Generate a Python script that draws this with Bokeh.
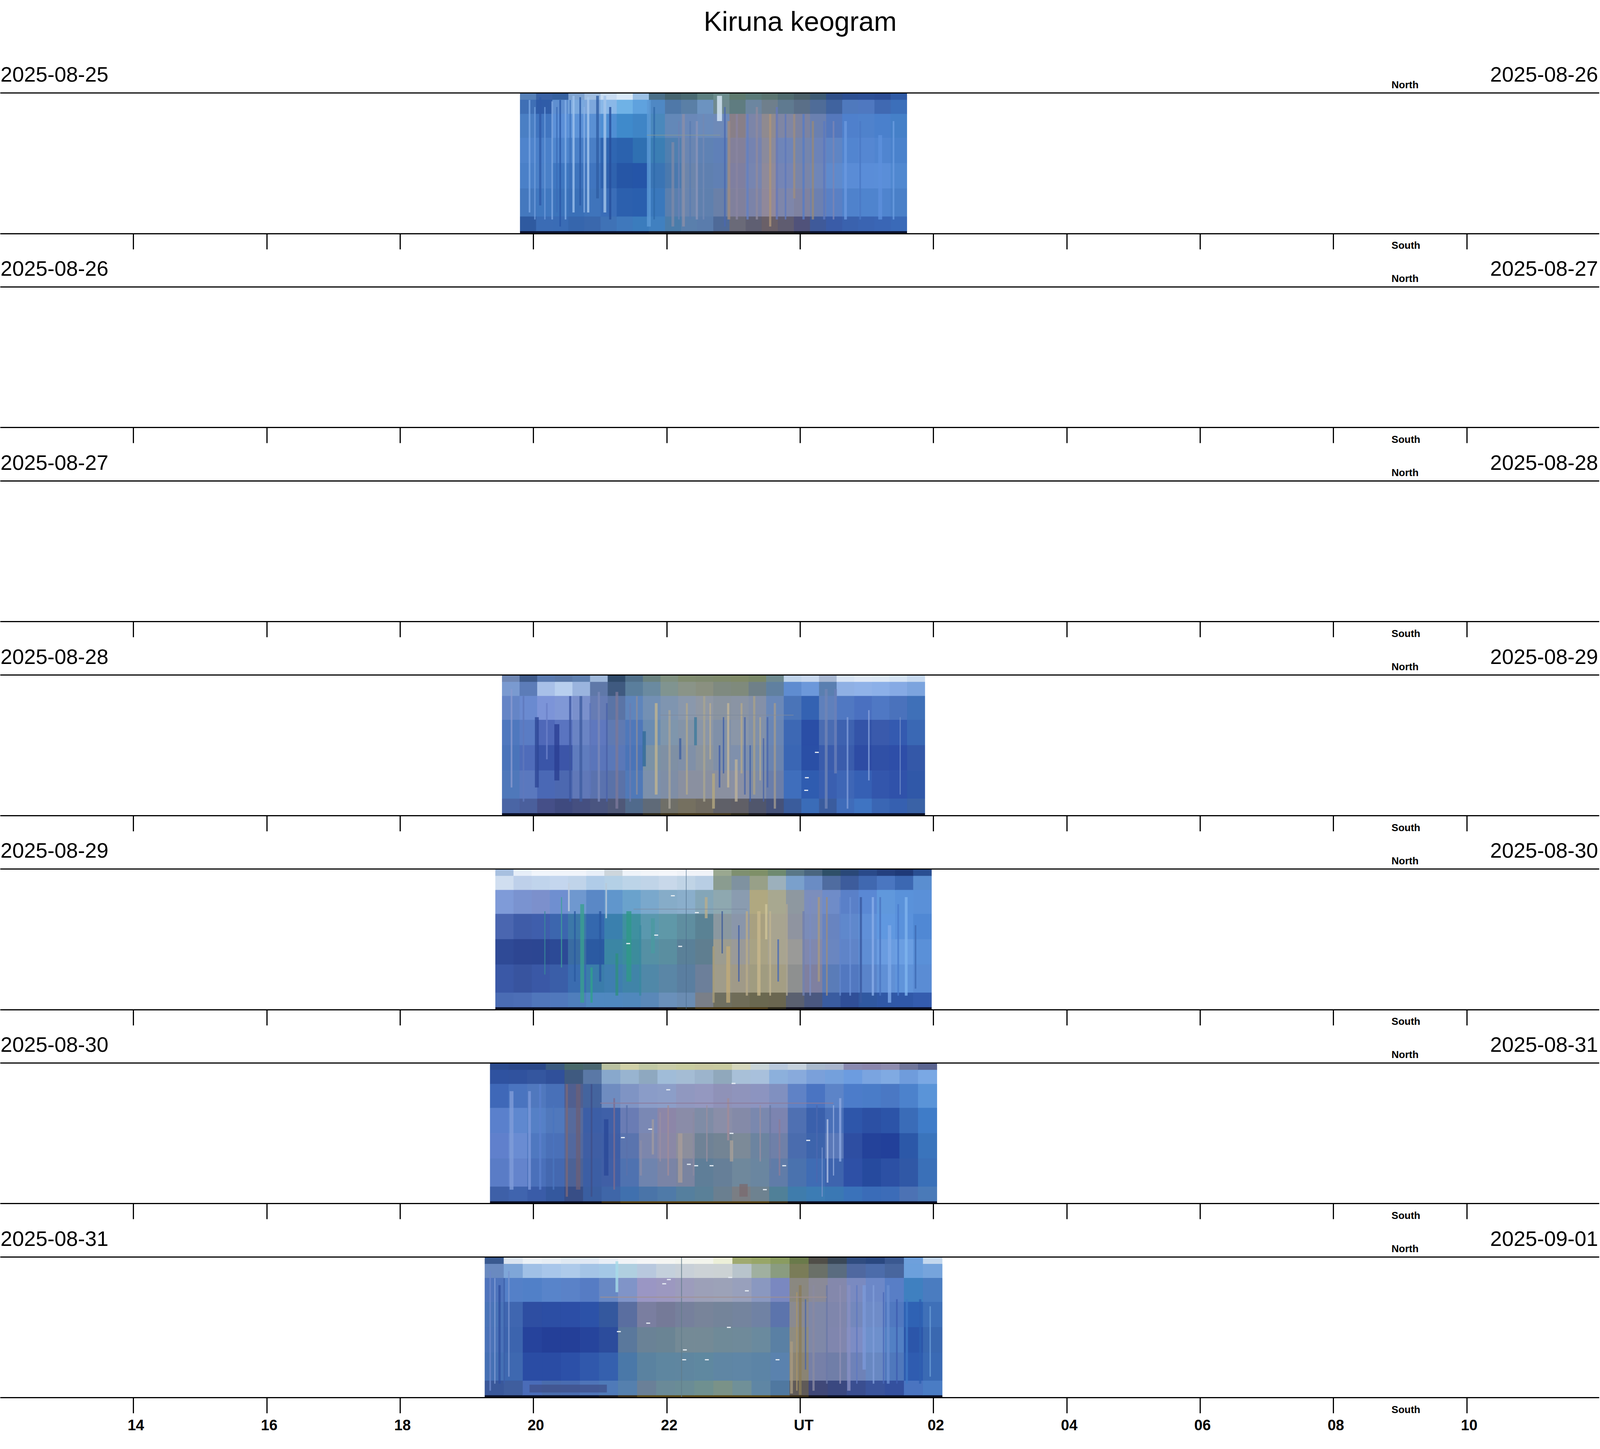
from bokeh.core.properties import value
from bokeh.embed import file_html
from bokeh.resources import INLINE
from bokeh.models import FixedTicker, LinearAxis, Range1d, Span
from bokeh.plotting import figure

TITLE = "Kiruna keogram"
DATES_LEFT = ["2025-08-25", "2025-08-26", "2025-08-27", "2025-08-28", "2025-08-29", "2025-08-30", "2025-08-31"]
DATES_RIGHT = ["2025-08-26", "2025-08-27", "2025-08-28", "2025-08-29", "2025-08-30", "2025-08-31", "2025-09-01"]
TICK_HOURS = [14, 16, 18, 20, 22, 24, 26, 28, 30, 32, 34]
TICK_LABELS = ["14", "16", "18", "20", "22", "UT", "02", "04", "06", "08", "10"]

# fraction of the panel height (from the top) where each colour row ends
ROW_EDGES = [0, .05, .15, .32, .5, .68, .88, .984, 1]

SPAN_1 = (19.80, 25.60)
SPAN_4 = (19.53, 25.87)
SPAN_5 = (19.43, 25.97)
SPAN_6 = (19.35, 26.05)
SPAN_7 = (19.27, 26.13)

COLS_1 = """#5580b8 #3f6fb5 #4a7fc4 #4f84cc #4a80c8 #4478be #2f5aa0 #0a1230
#3a62a5 #2f5ca8 #4075c0 #4a80ca #4a80c8 #4078c0 #3b6cb5 #0a1230
#35609f #5f8fd0 #5b90d8 #4f86ce #3f78c2 #3c74bc #3a6cb5 #0a1230
#7fa3d0 #7aa8de #5d93d8 #4a80c8 #3e74bd #3a70b8 #3666ad #0a1230
#9fbde0 #7da7dc #5a90d4 #4a7fc6 #4075bf #3f74bb #3a68ad #0a1230
#c8dcf2 #8ab8e8 #4f8fd4 #2f66b2 #2f62ae #3a6db8 #3f72b6 #0a1230
#d8e8f8 #6fb2e6 #3f8acb #2b62ae #2656a6 #2c60ae #3f78bc #0a1230
#9bc0e4 #5fa2de #3f85c6 #2f70b2 #2555a8 #2a5fae #3b7cbd #0a1230
#4a6f88 #4f88c4 #4a88bc #3b7eb4 #3a74b4 #3a78bc #4080c0 #141a28
#46646f #4f78a8 #6388b8 #4f7fb0 #4a79ae #5a7fae #4a7caa #141a28
#4a6a72 #5a7fa6 #6a88b8 #6a86b2 #6b85ac #6a85ae #5a7fac #141a28
#5c7f80 #6c93c0 #6a8bbb #5f82b4 #5f80b0 #5f80ae #5a7cac #141a28
#6b8c8c #6f8a90 #6e8ab8 #5f80b8 #6080b4 #6a80a8 #4f6a98 #1c1a20
#5e7a6e #5f7c80 #887f88 #83809a #7f7fa0 #80809c #6a6a78 #1c1a20
#5a7a78 #6c86a0 #7c85a8 #7583b0 #7785b0 #7b83a8 #5f5f72 #1c1a20
#5a7470 #6f7f8c #8f8a90 #8a8a9c #8f8a9a #90889a #6a6068 #1c1a20
#4f6a6e #5f7a90 #7f86a4 #6f85b8 #7585b5 #7e86aa #5f5c70 #1c1a20
#4a5f68 #5a6f88 #7d83a0 #7585ac #7a85a8 #7f82a0 #50527a #141620
#3d5a74 #4f6c98 #6a80b0 #6c83b8 #6f86b8 #6c80b0 #3f5a9a #0a1230
#2f4f88 #40639f #5578bc #5f85c4 #5f8acc #5a80c4 #3a5ca8 #0a1230
#2c4f92 #4f79bd #4f80cc #5285d0 #5a8cd6 #4f82cc #3a62ae #0a1230
#2c4f96 #4f78c0 #4f82cc #5587d2 #5a8dd8 #4f84ce #3a64b2 #0a1230
#2b4c94 #4069b2 #4a80cc #5085d0 #5a8ed8 #4f84ce #3a66b5 #0a1230
#2f5aa5 #3c6fba #4580c8 #4a82cc #5088d0 #4a80c8 #3a6ab8 #0a1230"""

COLS_4 = """#6f87b4 #7a9ad0 #6585c6 #4f78be #4a74ba #4f78ba #4a65a5 #0a1028
#3e5a8a #5c7cb8 #6a8ad0 #5a7cc4 #4f6cba #5a78be #4a5f9c #0a1028
#5a7ab0 #a8c0e8 #7c94d8 #4f68b8 #3a55a8 #4a68b5 #454f88 #0a1028
#5a78a8 #b8cfee #8098d6 #5a74c0 #3c55a8 #4c68b0 #3f4a7f #0a1028
#5f80b0 #9ab4de #7a90cc #6a84c4 #5f7cbe #6078b8 #454f80 #0a1028
#9fb8da #5f78a8 #667cb4 #5f78be #5a75ba #5a72ae #4a5580 #0a1028
#2f4a6a #3f5a80 #5a74a6 #5f7ab2 #5a78b8 #5a72a8 #4f5878 #0e1224
#50708a #5a7e9c #5f85bc #4f78ba #4a74b8 #5079b8 #506a8c #141420
#6a8280 #6a8aa0 #7390b4 #6a8cb2 #7a92a6 #7c90ac #5f6a78 #2a2618
#7f9080 #809490 #7f95b0 #7f96ac #7f90a4 #7f8ea6 #6f6f68 #3a3018
#808c70 #8a9488 #8a98ac #8494a8 #8090a8 #8a90a0 #757060 #403418
#7f8a70 #8a9080 #9098a4 #8a96a8 #8a94a0 #8a90a0 #6f6a60 #403418
#7f8a6c #7f8a80 #8a94a0 #8090a8 #8090a8 #8a90a0 #5f6068 #403418
#808a68 #7f8a7c #8a94a4 #8a96a8 #7f90ac #8a90a4 #605f66 #2a2618
#7a8868 #6f8088 #8490a8 #8090aa #7a8eac #7f8ca6 #50566c #1a1a20
#6f8a90 #6080a0 #6a88b8 #6a86b4 #6a84b0 #6a7eaa #45527a #0e1224
#c0d4ea #5f8cd0 #4a74b8 #3d68b4 #3a66b4 #3f6ebc #3a5c9c #0a1028
#c8d8ee #6c98da #3462b2 #2a4ea6 #2a4fa6 #2f5cb0 #3a6cb8 #0a1028
#a8b8d2 #5a7fb0 #5f80bc #4a6cb2 #3a5cac #3a5fb0 #3a5c9e #0a1028
#d8e4f4 #8fb0e4 #5078c2 #3e62b0 #3a5cac #3e66b6 #3f6cba #0a1028
#dfe8f6 #90b2e8 #4a70c0 #3454a8 #2e4ca4 #3660b4 #3f74c2 #0a1028
#dde8f5 #8cb0e8 #4f78c4 #3a5aac #3050a6 #3356ac #3a66b4 #0a1028
#d6e4f4 #86aae4 #4a72bc #345ab0 #2e4ea8 #3052aa #3660b0 #0a1028
#c8daf0 #7ca4de #3f70b8 #3a68b4 #3458a8 #3058a8 #3a62a6 #0a1028"""

COLS_5 = """#a8c0e0 #d0def0 #7f9bd8 #4a66b0 #2f4a96 #3a58a6 #4a6cb4 #0a1028
#e6eef8 #bed0ea #7a93d0 #3f5ca8 #2d4692 #38549f #4c6eb6 #0a1028
#f0f5fb #c0d4ec #7c90cc #3f5eac #2c4692 #3a58a6 #5076bb #0a1028
#f0f4fa #c4d6ee #6f8fd0 #3c66ae #2c4a96 #3a5ea8 #5078bc #0a1028
#f0f4fa #c0d4ea #6f98cf #3c78a8 #3a6ca2 #3a6cb0 #4f7ebc #0a1028
#e8eff8 #b0cce8 #5a88c6 #3468ae #2b5aa2 #3a7caa #4f88c0 #0a1028
#cdd6dc #b4d0e6 #6096cc #3a80ae #3b86a4 #3f7eb0 #4f88bf #0a1028
#eef3f9 #bcd4e8 #6aa2cc #3f90a0 #3c8c9c #4084a8 #5088bc #0a1028
#f2f5f9 #c0d4e8 #7aa8cc #5a98ae #5590a4 #5088a8 #5a88b8 #0e1224
#f4f6fa #c8d8ea #86acc8 #5f98a8 #5a8ea0 #5a86a6 #6a90ba #141420
#f0f3f8 #c0d4e6 #8aaecb #5f8ea0 #5a8098 #5a7ea0 #6a8cb2 #2a2618
#f0f3f8 #b8cee4 #84a6b8 #5a8294 #5f7e90 #6c7f9a #7a7f88 #4a3a18
#9aa890 #8a9c90 #8ea8b0 #8a98a0 #9c9c90 #a09c8a #6f6f60 #4a3a18
#7f9070 #7f92a0 #8a9cb0 #8a96aa #9a9a98 #a09a88 #6f6c58 #4a3a18
#7f9068 #98a088 #b0a880 #a8a080 #a8a284 #a09c80 #6a6850 #4a3a18
#6f8a70 #9cb0bc #a8a890 #a8a490 #a8a490 #a49e84 #6a6650 #2a2618
#5a7888 #7aa0cc #8e98a0 #8f94a0 #9a9a98 #8e9090 #5a6070 #141420
#4a6680 #6a8cc4 #7c8ebc #7b8cb8 #8088ae #7f80a0 #4a5880 #0e1224
#2f5068 #4f6ca0 #6f8cc8 #6884c0 #6a86c0 #5a7cb8 #3a5ca0 #0a1028
#2a4878 #3d5c9c #5a80c8 #5f88cc #5f84c8 #5278c0 #304f98 #0a1028
#2a4a8a #4068b0 #5a88d4 #6090d8 #5f8ed4 #5a84ca #3058a0 #0a1028
#24407f #4a76c0 #6098dc #6098e0 #6a9ce0 #6090d6 #3058a6 #0a1028
#1f3a78 #3c68b2 #5a92da #5a92dc #6a9ee2 #6094da #3058a8 #0a1028
#2a4f92 #5a8ed0 #5a90d8 #5088d4 #5a90d8 #5a8cd4 #345cae #0a1028"""

COLS_6 = """#2a4a8e #2f52a0 #3f68b8 #5a80cc #6080cc #5a7cc6 #3e60a8 #0a1028
#2a488a #30529e #4a74bf #5f88cf #6a8cd2 #6484cc #4064ae #0a1028
#2a4888 #34569f #5078be #5580c6 #4f78c0 #4a70ba #3a5ca8 #0a1028
#3a5a80 #30509a #4870b8 #5078bc #4a70b8 #4468b0 #34589e #0a1028
#48686a #3f5a80 #505f90 #566a9c #52689e #4c6296 #384e86 #0a1028
#4a6670 #5a78a6 #44649e #3c5ea6 #3f5ea4 #3c5ea4 #3a5ea0 #0e1224
#b8c0a0 #88a8cc #6f8cc0 #3f60a8 #3f5ea6 #405fa6 #3f66a8 #3a2e18
#d0d0a8 #98b4d0 #7f94c4 #6a7cb4 #5a74ae #4f72b0 #4070ae #5a4416
#c0c8a4 #8ea8c0 #8a9cc8 #7a88b4 #7c86ac #6f84ae #4a74a8 #5a4416
#c8cca8 #a0bcd8 #8c9ec8 #8c86a8 #8a88a6 #7a84a6 #4f7aa8 #5a4416
#c8cca0 #a4bcd4 #9098c0 #8a8ca8 #8c8e9c #7a84a0 #557f9e #5a4416
#c8c8a0 #9cb4cc #9498c0 #7f8ca6 #6f8296 #5f7e98 #5a8098 #5a4416
#c8caa0 #90a8bc #8f92b8 #8a8ea8 #738494 #667f98 #6a7f90 #5a4416
#d4d6bc #a8c0d8 #8f94bc #848aa8 #7c8a98 #6f889c #7a7e84 #5a4416
#c8d4d8 #a8c0dc #8c94c0 #7a88ae #6c84a0 #6a86a0 #6e8290 #5a4416
#b8c8dc #8cb0dc #8090c0 #7c84b0 #6f80a8 #607ca8 #508098 #3a2e18
#c4d0dc #88aadc #5f82c6 #4f70b2 #4a6cae #4a72ae #3f7cac #141420
#a8b8cc #7aa0da #4a74c2 #3a60ac #3d64ac #3f6cb4 #3c7cb4 #0a1028
#a8b4cc #74a0dc #5c84c8 #4a70b8 #5a78b8 #3e64ae #3a78b4 #0a1028
#8a8ab0 #6c9ce0 #4c7cca #2e56aa #2e4ea2 #2e50a6 #3a72ba #0a1028
#8a86ac #7aa4e0 #4a7cc8 #2c50a4 #24429a #264a9e #3a6cb8 #0a1028
#8e8cae #80aae2 #4a78c4 #2c54a8 #22409a #2c50a4 #3c6cb8 #0a1028
#70769a #6f9cdc #4c82cc #3a6cb8 #2c58a8 #3058a6 #4c72b4 #0a1028
#5a6490 #7aa8e4 #5a94d8 #3f7cc8 #3a74bc #3a70b8 #4a7ab8 #0a1028"""

COLS_7 = """#3a5a90 #6a8ac0 #4f74bc #4a74b8 #4a72b8 #4570b4 #3a589a #0a1028
#dbe4f0 #7fa6d8 #5480c8 #3f66b0 #3c64ae #3e68b0 #3f5e9e #0a1028
#eaf0f6 #a0c0e6 #5180c8 #2e4ea2 #26439c #2a4ca4 #4a6cb8 #0a1028
#e6edf4 #a8c6ea #5884ca #2c4ea4 #243f98 #2a4ca4 #4a6cac #0a1028
#dfe8f2 #aecaea #5a82c8 #2c4ea6 #243f98 #2c50a8 #4a6cb0 #0a1028
#dfe8f4 #a4c4e6 #567cc4 #2c52a8 #26449c #3058ac #4f74b8 #0a1028
#e8eef6 #a4c8e6 #6888c4 #34589e #2c4c9c #3560ae #4f7ab8 #1a1a20
#f0f3f6 #b0cfe0 #8094c8 #5a6ea0 #5a789c #4a78a8 #5580ae #3a2e18
#f4f5f6 #b8c8de #9a96c4 #7a7ea0 #6a8296 #5a82a0 #6a8098 #5a4a18
#f4f5f2 #c4d0dc #9c98c0 #757a98 #6a8494 #5e86a0 #6a8a98 #5a4a18
#f2f4ee #c8d0d8 #9c9cbc #76809c #748a96 #5f86a0 #6a8c96 #5a4a18
#f2f4ec #ccd2d6 #9ca0b8 #78849a #748a96 #5f88a0 #6f9090 #5a4a18
#ecefd8 #ccd2d4 #9ca2b8 #74849a #6f8a98 #5f86a4 #7a9288 #5a4a18
#a0aa70 #b8c4cc #98a0bc #74849e #6f8a9a #5f86a6 #709098 #5a4a18
#98a668 #a0b0a0 #8a98c0 #7082a4 #6a8a9e #5c84a6 #5f86a4 #5a4a18
#8a9c60 #8a9c80 #7a88c0 #5c74ac #5a80a4 #5a82ae #5078a0 #4a3a18
#6a7a4a #7a7c58 #8a8880 #8a8a90 #8f8c80 #8a8474 #5f5a58 #3a2e18
#504e48 #6a7068 #8a8a98 #7f88a8 #7f88a8 #7680a8 #404878 #141420
#3a4858 #5a6c80 #8488ac #7f86ac #8086ae #707ea8 #3a4880 #0a1028
#304c80 #4f68a0 #7a8ac0 #7488bc #7c8cc4 #6e82b8 #3a4e90 #0a1028
#2a4880 #4c6caa #6c88c8 #6f8cc8 #6e90cc #6888c2 #3a549c #0a1028
#3a5890 #48669e #587ec6 #5078c0 #5280c4 #4f78bc #34509e #0a1028
#6ea0dc #6ca0dc #3f80c0 #2f62b4 #2c56aa #2f5cb0 #4a74c0 #0a1028
#c4d8ee #76a4dc #4a7cc0 #3f70b8 #3a68b0 #3a6ab4 #4a7cc4 #0a1028"""

# vertical auroral streaks: hour, top fraction, bottom fraction, colour, width
STREAKS_1 = [
    (19.94, .05, .85, "#7ca8e4", 6), (20.10, .03, .80, "#2f5aa8", 8), (20.28, .06, .90, "#7da6e0", 6),
    (20.40, .05, .95, "#2a58a8", 6), (20.48, .05, .90, "#82aee6", 6), (20.60, .02, .85, "#9cc0ec", 8),
    (20.70, .03, .80, "#2c5aa6", 6), (20.82, .03, .85, "#a8c8ee", 8), (20.96, .02, .75, "#2f5ea4", 10),
    (21.07, .02, .85, "#a4c4ea", 10), (21.15, .10, .90, "#274f9c", 8), (21.73, .05, .95, "#5c9ad6", 14),
    (21.81, .10, .90, "#2f6aaa", 6), (22.09, .35, .95, "#7a88a8", 10), (22.25, .15, .95, "#8a8fa8", 10),
    (22.45, .20, .90, "#8a94b8", 8), (22.79, .02, .20, "#d8e8f8", 18), (22.87, .10, .95, "#4a68b0", 6),
    (22.93, .20, .90, "#a08c80", 10), (23.21, .15, .90, "#6480c0", 8), (23.55, .15, .95, "#ac9478", 8),
    (23.65, .10, .90, "#6478bc", 8), (23.91, .15, .75, "#9c8c80", 8), (24.05, .15, .90, "#587cc4", 8),
    (24.19, .20, .90, "#94887c", 8), (24.36, .20, .90, "#5a78c0", 8), (24.68, .20, .90, "#6a98de", 10),
    (25.20, .30, .90, "#5c90dc", 14), (20.02, .10, .90, "#6f9cdc", 5), (20.17, .10, .90, "#6a98d8", 5),
    (20.35, .10, .85, "#3c6cb8", 5), (20.55, .05, .85, "#3a6cb8", 4), (20.76, .10, .85, "#8ab0e6", 5),
    (22.18, .20, .90, "#6a82b4", 6), (22.35, .20, .90, "#5a7cb0", 6), (22.55, .15, .90, "#7288b4", 6),
    (23.05, .15, .90, "#8a84a0", 8), (23.35, .10, .90, "#908a9c", 8), (23.78, .15, .90, "#5f78bc", 6),
    (24.50, .20, .90, "#7a84b4", 6), (24.90, .20, .90, "#4a78c4", 6), (25.40, .20, .90, "#6a9ce0", 6),
]
STREAKS_4 = [
    (19.67, .10, .80, "#8a9ad0", 6), (20.05, .30, .80, "#2d4696", 14), (20.35, .35, .75, "#2a3f92", 18),
    (20.71, .15, .90, "#3f5ca0", 10), (20.98, .12, .90, "#7a88b8", 8), (21.25, .12, .95, "#7a7898", 10),
    (21.66, .40, .65, "#2f6a9a", 12), (21.84, .20, .85, "#c0b490", 10), (22.04, .25, .95, "#a8a498", 8),
    (22.20, .45, .60, "#40609f", 8), (22.43, .30, .50, "#3f7a9c", 10), (22.56, .15, .90, "#a8a490", 8),
    (22.70, .70, .95, "#b4a880", 10), (22.79, .50, .80, "#3f5ca8", 6), (22.92, .20, .80, "#c0b498", 8),
    (23.04, .60, .90, "#bcb098", 10), (23.17, .30, .85, "#4a66a8", 6), (23.31, .15, .85, "#a8a088", 8),
    (23.51, .30, .80, "#4a66ac", 6), (23.62, .20, .95, "#a09a90", 8), (24.39, .10, .95, "#7184b4", 10),
    (24.53, .10, .70, "#6a80b8", 10), (24.71, .30, .95, "#7f9cd8", 6), (25.03, .25, .75, "#8aa4dc", 5),
    (25.50, .30, .85, "#6f8cc8", 4), (21.45, .20, .90, "#6a7cb0", 6), (21.55, .15, .85, "#8a8c9c", 6),
    (22.30, .20, .85, "#b0a88c", 7), (22.65, .20, .60, "#b8ac90", 6), (22.85, .30, .70, "#3f5fa8", 5),
    (23.12, .20, .70, "#b0a68c", 7), (23.25, .50, .90, "#4060a8", 5), (23.40, .30, .75, "#b0a890", 6),
    (23.45, .45, .90, "#4a64a8", 5), (19.85, .15, .90, "#5f78bc", 6), (20.20, .20, .60, "#6a80c8", 6),
    (20.55, .15, .90, "#3c56a0", 8), (20.85, .20, .85, "#5c74b8", 6), (21.10, .20, .90, "#4a62a8", 6),
]
STREAKS_5 = [
    (20.17, .30, .75, "#3a8a9a", 4), (20.42, .20, .70, "#3fa098", 4), (20.53, .10, .30, "#c4d0e0", 6),
    (20.73, .25, .95, "#3aa090", 14), (20.87, .70, .95, "#30a08c", 8), (21.09, .10, .35, "#b8c8d8", 6),
    (21.43, .30, .80, "#2f9888", 18), (21.25, .60, .90, "#2f9080", 10), (22.29, 0, 1, "#4a6a88", 2),
    (21.79, .35, .60, "#4a9aa0", 14), (22.59, .20, .35, "#b8ae8c", 10), (22.92, .55, .95, "#c0aa78", 14),
    (22.83, .30, .60, "#3f5c9a", 5), (23.38, .30, .90, "#c8b88c", 12), (23.08, .40, .80, "#3f5ea8", 5),
    (23.67, .50, .80, "#4a6cb4", 6), (23.49, .25, .50, "#d0c498", 8), (24.05, .30, .90, "#6f80b0", 8),
    (24.28, .20, .80, "#a89880", 8), (24.91, .20, .95, "#3a5aa0", 8), (25.09, .20, .90, "#8aaee8", 8),
    (25.59, .20, .90, "#80b4ee", 10), (25.73, .40, .85, "#3f6cb4", 6), (25.34, .40, .95, "#7eaae8", 12),
    (23.20, .30, .90, "#b8aa88", 8), (23.55, .30, .90, "#c0b490", 6), (23.80, .25, .90, "#b0a890", 6),
    (24.15, .20, .90, "#7a8cc0", 6), (24.40, .20, .90, "#9a8c80", 6), (24.60, .20, .90, "#5f84cc", 6),
    (24.75, .20, .90, "#6a90d4", 6), (25.20, .20, .90, "#4a74c0", 6), (25.47, .25, .90, "#4a7ccc", 6),
    (20.62, .30, .80, "#2a5aa0", 6), (21.00, .30, .80, "#2a58a0", 8), (21.60, .40, .90, "#3a8aa0", 8),
    (22.70, .55, .95, "#a89c78", 8),
]
STREAKS_6 = [
    (19.67, .20, .90, "#7f9cd8", 14), (19.94, .20, .90, "#7c98da", 10), (20.67, .15, .90, "#6a5f78", 16),
    (20.87, .15, .95, "#404f88", 6), (21.09, .40, .80, "#2a4898", 16), (21.21, .25, .90, "#7c6c90", 6),
    (21.79, .40, .65, "#a09aa0", 8), (21.61, .55, .80, "#8a8ca8", 8), (22.20, .50, .85, "#a89c98", 16),
    (22.02, .30, .80, "#a08c98", 6), (22.92, .25, .55, "#a08c98", 8), (22.97, .55, .70, "#a8a098", 12),
    (23.69, .40, .80, "#8c7c98", 6), (24.41, .40, .85, "#b4c4e4", 6), (24.60, .25, .70, "#8ca8e0", 8),
    (24.33, .60, .95, "#7a94cc", 4), (23.15, .86, .95, "#7a6c70", 30), (20.10, .15, .90, "#5a80cc", 8),
    (20.30, .30, .90, "#4a74be", 6), (20.50, .15, .95, "#7a6878", 8), (21.40, .30, .80, "#5a70aa", 6),
    (21.90, .35, .70, "#9a8ea0", 5), (22.40, .35, .80, "#8a8aa0", 6), (22.60, .30, .70, "#9a90a0", 5),
    (23.40, .30, .70, "#9a8ea0", 5), (23.55, .30, .75, "#6a7aa4", 6), (24.25, .30, .85, "#4a68b0", 6),
    (24.50, .30, .80, "#9ab0e0", 4),
]
STREAKS_7 = [
    (19.35, .10, .95, "#6a86c8", 6), (19.49, .20, .90, "#2f50a0", 8), (19.63, .10, .85, "#7a96d0", 5),
    (24.00, .20, .98, "#8a7c58", 10), (23.87, .60, .97, "#a89a80", 10), (24.08, .30, .80, "#4a66a8", 5),
    (24.73, .20, .95, "#8a90c0", 12), (24.96, .20, .80, "#7a98d8", 12), (25.32, .20, .90, "#6a8ed0", 10),
    (25.45, .30, .90, "#3f5eb0", 6), (25.95, .35, .85, "#6a9cd4", 5), (21.25, .03, .25, "#a8dce8", 10),
    (22.22, 0, 1, "#607a88", 3), (19.42, .15, .90, "#8aa4d8", 4), (19.56, .15, .90, "#3c5ea8", 5),
    (24.20, .20, .95, "#8a8aa0", 8), (24.40, .20, .90, "#6a78a8", 6), (24.60, .20, .90, "#9090b4", 6),
    (24.85, .20, .90, "#5f78c0", 5), (25.10, .20, .90, "#7f9cd8", 6), (25.25, .25, .90, "#4a68b8", 5),
    (25.60, .30, .90, "#3f78c4", 8), (25.80, .30, .90, "#3060b0", 8), (23.95, .25, .95, "#a89468", 5),
]

# horizontal bands: start hour, end hour, fraction, colour, width
BANDS_1 = [(21.7, 22.8, .30, "#8a9a90", 2)]
BANDS_4 = [(21.9, 23.9, .285, "#7f8a9c", 2)]
BANDS_5 = [(21.5, 23.2, .285, "#7a8aa0", 2)]
BANDS_6 = [(21.0, 24.5, .285, "#8c7a9a", 3)]
BANDS_7 = [(21.0, 24.4, .285, "#a09090", 3), (19.94, 21.1, .935, "#3f4f88", 20)]

# stars: hour, fraction
STARS_4 = [(24.25, .55), (24.1, .73), (24.09, .82)]
STARS_5 = [(22.09, .19), (21.84, .47), (21.42, .53), (22.2, .55), (22.45, .31)]
STARS_6 = [(21.34, .53), (21.75, .47), (22.02, .19), (22.97, .50), (24.12, .55), (22.67, .73), (22.33, .72),
           (23.76, .73), (23.47, .90), (23.0, .145), (22.44, .73)]
STARS_7 = [(21.28, .53), (21.72, .47), (21.96, .19), (22.93, .50), (23.66, .73), (22.26, .73), (22.6, .73),
           (22.27, .66), (22.95, .145), (22.03, .16), (23.2, .24)]

KEOGRAMS = {
    0: (SPAN_1, COLS_1, STREAKS_1, BANDS_1, []),
    3: (SPAN_4, COLS_4, STREAKS_4, BANDS_4, STARS_4),
    4: (SPAN_5, COLS_5, STREAKS_5, BANDS_5, STARS_5),
    5: (SPAN_6, COLS_6, STREAKS_6, BANDS_6, STARS_6),
    6: (SPAN_7, COLS_7, STREAKS_7, BANDS_7, STARS_7),
}

FONT = value("Liberation Sans")

# The photographed area is 4096 x 3686 page px; the chart is fitted to it.
VIEW_W, VIEW_H = 4096, 3686
WIDTH, HEIGHT = 4094, 3684
REF_H = 3710
PANEL_STEP = 500
PANEL_FIRST_TOP = 239
PANEL_H = 362.5
WIDTH_SCALE = VIEW_W / 5760

x_range = Range1d(12, 12 + 24 * WIDTH / VIEW_W)
y_range = Range1d(REF_H * HEIGHT / VIEW_H, 0)

p = figure(width=WIDTH, height=HEIGHT, x_range=x_range, y_range=y_range, output_backend="svg",
           toolbar_location=None, x_axis_location=None, y_axis_location=None, min_border=0,
           background_fill_color="white", border_fill_color="white", outline_line_color=None)
p.grid.visible = False


def keogram(top, span, cols, streaks, bands, stars):
    to_y = lambda f: top + f * PANEL_H
    rows = [c.split() for c in cols.split("\n")]
    step = (span[1] - span[0]) / len(rows)
    left, right, t, b, color = [], [], [], [], []
    for i, col in enumerate(rows):
        for j, hexc in enumerate(col):
            left.append(span[0] + i * step)
            right.append(span[0] + (i + 1) * step)
            t.append(to_y(ROW_EDGES[j]))
            b.append(to_y(ROW_EDGES[j + 1]))
            color.append(hexc)
    p.quad(left=left, right=right, top=t, bottom=b, fill_color=color, line_color=color, line_width=1)
    p.segment(x0=[s[0] for s in streaks], x1=[s[0] for s in streaks],
              y0=[to_y(s[1]) for s in streaks], y1=[to_y(s[2]) for s in streaks],
              line_color=[s[3] for s in streaks], line_width=[s[4] * WIDTH_SCALE for s in streaks], line_alpha=0.8)
    p.segment(x0=[b_[0] for b_ in bands], x1=[b_[1] for b_ in bands],
              y0=[to_y(b_[2]) for b_ in bands], y1=[to_y(b_[2]) for b_ in bands],
              line_color=[b_[3] for b_ in bands], line_width=[b_[4] for b_ in bands], line_alpha=0.7)
    if stars:
        p.scatter(x=[s[0] for s in stars], y=[to_y(s[1]) for s in stars], marker="dash", size=10,
                  line_color="#e8eef4", line_width=3)


TOPS = [PANEL_FIRST_TOP + PANEL_STEP * k for k in range(7)]
for k, top in enumerate(TOPS):
    if k in KEOGRAMS:
        keogram(top, *KEOGRAMS[k])
    ax = LinearAxis(fixed_location=top + PANEL_H, ticker=FixedTicker(ticks=TICK_HOURS))
    ax.axis_line_color = "black"
    ax.axis_line_width = 3
    ax.major_tick_line_color = "black"
    ax.major_tick_line_width = 3
    ax.major_tick_out = 40
    ax.major_tick_in = 0
    ax.minor_tick_line_color = None
    ax.major_label_text_font_size = "0px"
    ax.major_label_text_color = None
    p.add_layout(ax, "below")
    p.add_layout(Span(location=top, dimension="width", line_color="black", line_width=3))

right_edge = x_range.end - 0.02
# in the SVG output these texts sit centred on their y position
p.text(x=[12.005] * 7, y=[t - 47.5 for t in TOPS], text=DATES_LEFT, text_font=FONT, text_font_size="54px",
       text_color="black", text_align="left", text_baseline="alphabetic")
p.text(x=[right_edge] * 7, y=[t - 47.5 for t in TOPS], text=DATES_RIGHT, text_font=FONT, text_font_size="54px",
       text_color="black", text_align="right", text_baseline="alphabetic")
p.text(x=[32.87] * 7, y=[t - 21.5 for t in TOPS], text=["North"] * 7, text_font=FONT, text_font_style="bold",
       text_font_size="26px", text_color="black", text_align="left", text_baseline="alphabetic")
p.text(x=[32.87] * 7, y=[t + PANEL_H + 30.5 for t in TOPS], text=["South"] * 7, text_font=FONT,
       text_font_style="bold", text_font_size="26px", text_color="black", text_align="left", text_baseline="alphabetic")
p.text(x=[24], y=[55], text=[TITLE], text_font=FONT, text_font_size="70px", text_color="black",
       text_align="center", text_baseline="alphabetic")
p.text(x=TICK_HOURS, y=[3672] * len(TICK_HOURS), text=TICK_LABELS,
       x_offset=[9 if t == "UT" else 6 for t in TICK_LABELS], text_font=FONT, text_font_style="bold",
       text_font_size="38px", text_color="black", text_align="center", text_baseline="alphabetic")

open("out.html", "w").write(file_html(p, INLINE))
